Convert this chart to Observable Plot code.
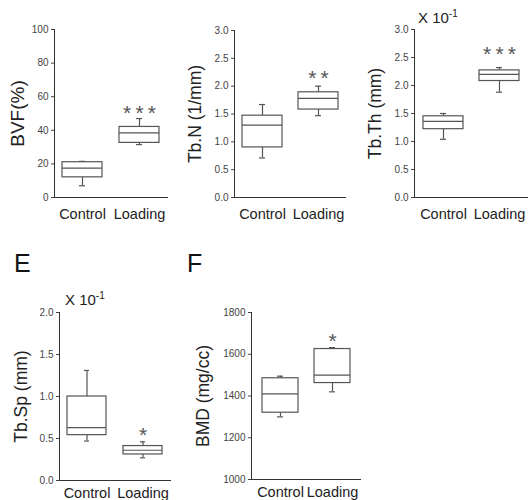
<!DOCTYPE html>
<html>
<head>
<meta charset="utf-8">
<script src="https://cdn.jsdelivr.net/npm/d3@7"></script>
<script src="https://cdn.jsdelivr.net/npm/@observablehq/plot@0.6"></script>
<style>
  body { margin: 0; background: #fff; font-family: "Liberation Sans", Arial, sans-serif; }
  #root { position: relative; width: 528px; height: 500px; overflow: hidden; }
  .panel { position: absolute; }
  .note { position: absolute; font-size: 15px; color: #222; white-space: nowrap; }
  .note sup { font-size: 10px; }
  .letter { position: absolute; font-size: 25px; color: #111; }
</style>
</head>
<body>
<div id="root"></div>
<script>
// groups
const groups = ["Control", "Loading"];

// [lower whisker, Q1, median, Q3, upper whisker]
const bvfControl = [7, 12, 17.5, 21, 21.5];
const bvfLoading = [31.5, 32.5, 38.5, 42, 47];
const tbnControl = [0.71, 0.9, 1.3, 1.47, 1.67];
const tbnLoading = [1.47, 1.58, 1.78, 1.89, 2.0];
const tbthControl = [1.04, 1.22, 1.36, 1.45, 1.5];
const tbthLoading = [1.88, 2.08, 2.2, 2.27, 2.32];
const tbspControl = [0.47, 0.54, 0.63, 1.0, 1.31];
const tbspLoading = [0.27, 0.31, 0.36, 0.41, 0.46];
const bmdControl = [1300, 1320, 1410, 1485, 1495];
const bmdLoading = [1420, 1462, 1500, 1625, 1632];

// significance marks (text, value where drawn above the Loading box)
const stars = ["*\u2009*\u2009*", "*\u2009*", "*\u2009*\u2009*", "*", "*"];
const starValues = [54, 2.25, 2.66, 0.61, 1690];

// y titles and ticks
const titles = ["BVF(%)", "Tb.N (1/mm)", "Tb.Th (mm)", "Tb.Sp (mm)", "BMD (mg/cc)"];
const bvfTicks = [0, 20, 40, 60, 80, 100];
const tbnTicks = [0, 0.5, 1.0, 1.5, 2.0, 2.5, 3.0];
const tbthTicks = [0, 0.5, 1.0, 1.5, 2.0, 2.5, 3.0];
const tbspTicks = [0, 0.5, 1.0, 1.5, 2.0];
const bmdTicks = [1000, 1200, 1400, 1600, 1800];

function rowsOf(control, loading) {
  return [control, loading].map((s, i) => ({
    group: groups[i], low: s[0], q1: s[1], med: s[2], q3: s[3], high: s[4]
  }));
}

function panel(o) {
  const rows = rowsOf(o.control, o.loading);
  const box = "#555";
  const svg = Plot.plot({
    width: o.width, height: o.height,
    marginLeft: o.ml, marginRight: o.mr, marginTop: o.mt, marginBottom: o.mb,
    style: { fontFamily: "Liberation Sans, Arial, sans-serif", background: "transparent", overflow: "visible" },
    x: { type: "band", domain: groups, paddingInner: o.pi, paddingOuter: o.po, axis: null },
    y: { domain: [o.ticks[0], o.ticks[o.ticks.length - 1]], axis: null },
    marks: [
      Plot.axisX({ tickSize: 0, tickPadding: o.xpad, fontSize: 14.5, color: "#222", label: null }),
      Plot.axisY({ ticks: o.ticks, tickFormat: o.fmt, tickSize: 3, tickPadding: 3, fontSize: 10, color: "#444", label: null }),
      Plot.frame({ anchor: "left", stroke: "#333" }),
      Plot.frame({ anchor: "bottom", stroke: "#333" }),
      Plot.ruleX(rows, { x: "group", y1: "low", y2: "q1", stroke: box, strokeWidth: 1.2 }),
      Plot.ruleX(rows, { x: "group", y1: "q3", y2: "high", stroke: box, strokeWidth: 1.2 }),
      Plot.tickY(rows, { x: "group", y: "low", stroke: box, strokeWidth: 1.2, insetLeft: o.cap, insetRight: o.cap }),
      Plot.tickY(rows, { x: "group", y: "high", stroke: box, strokeWidth: 1.2, insetLeft: o.cap, insetRight: o.cap }),
      Plot.barY(rows, { x: "group", y1: "q1", y2: "q3", fill: "white", stroke: box, strokeWidth: 1.2 }),
      Plot.tickY(rows, { x: "group", y: "med", stroke: box, strokeWidth: 1.2 }),
      Plot.text([o.star], { x: () => groups[1], y: () => o.starY, text: d => d, fontSize: 21, fill: "#555", dy: 6 }),
      Plot.text([o.title], { frameAnchor: "left", text: d => d, rotate: -90, dx: -o.tdx, fontSize: o.tfs, fill: "#222", textAnchor: "middle", lineAnchor: "middle" })
    ]
  });
  const div = document.createElement("div");
  div.className = "panel";
  div.style.left = o.left + "px";
  div.style.top = o.top + "px";
  div.appendChild(svg);
  document.getElementById("root").appendChild(div);
}

const f1 = d3.format(".1f");

panel({ left: 0, top: 0, width: 175, height: 225, ml: 54, mr: 8, mt: 29, mb: 28, pi: 0.3, po: 0.14, cap: 17, xpad: 11,
  control: bvfControl, loading: bvfLoading, ticks: bvfTicks, fmt: d3.format("d"), star: stars[0], starY: starValues[0], title: titles[0], tdx: 37, tfs: 19 });
panel({ left: 170, top: 0, width: 178, height: 225, ml: 64, mr: 3, mt: 30, mb: 28, pi: 0.29, po: 0.13, cap: 17, xpad: 11,
  control: tbnControl, loading: tbnLoading, ticks: tbnTicks, fmt: f1, star: stars[1], starY: starValues[1], title: titles[1], tdx: 39, tfs: 17.5 });
panel({ left: 350, top: 0, width: 178, height: 225, ml: 64, mr: 0, mt: 29, mb: 28, pi: 0.29, po: 0.16, cap: 17, xpad: 11,
  control: tbthControl, loading: tbthLoading, ticks: tbthTicks, fmt: f1, star: stars[2], starY: starValues[2], title: titles[2], tdx: 39, tfs: 17.5 });
panel({ left: 0, top: 250, width: 178, height: 250, ml: 59, mr: 8, mt: 62, mb: 20, pi: 0.3, po: 0.14, cap: 17, xpad: 7,
  control: tbspControl, loading: tbspLoading, ticks: tbspTicks, fmt: f1, star: stars[3], starY: starValues[3], title: titles[3], tdx: 38, tfs: 17.5 });
panel({ left: 180, top: 250, width: 180, height: 250, ml: 71, mr: 0, mt: 62, mb: 21, pi: 0.31, po: 0.2, cap: 15, xpad: 7,
  control: bmdControl, loading: bmdLoading, ticks: bmdTicks, fmt: d3.format("d"), star: stars[4], starY: starValues[4], title: titles[4], tdx: 48, tfs: 17.5 });

// annotations
const root = document.getElementById("root");
function note(html, cls, x, y) {
  const d = document.createElement("div");
  d.className = cls; d.innerHTML = html;
  d.style.left = x + "px"; d.style.top = y + "px";
  root.appendChild(d);
}
note("X 10<sup>-1</sup>", "note", 418, 8);
note("X 10<sup>-1</sup>", "note", 65, 290);
note("E", "letter", 14, 249);
note("F", "letter", 187, 249);
</script>
</body>
</html>
